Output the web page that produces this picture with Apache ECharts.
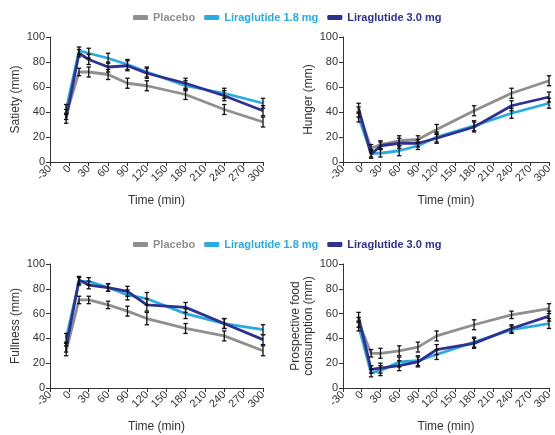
<!DOCTYPE html>
<html>
<head>
<meta charset="utf-8">
<script src="https://cdn.jsdelivr.net/npm/echarts@6/dist/echarts.min.js"></script>
<style>
html,body{margin:0;padding:0;background:#fff;}
#chart{width:555px;height:435px;}
</style>
</head>
<body>
<div id="chart"></div>
<script>
// ---- data ----
const seriesNames = ['Placebo', 'Liraglutide 1.8 mg', 'Liraglutide 3.0 mg'];
const timePoints = [-5, 15, 30, 60, 90, 120, 180, 240, 300];
const xTicks = [-30, 0, 30, 60, 90, 120, 150, 180, 210, 240, 270, 300];
const yTicks = [0, 20, 40, 60, 80, 100];

const satietyPlacebo = [38, 72, 72, 70, 63, 61, 54, 42, 32];
const satietyLira18  = [42, 89, 87, 83, 78, 72, 61, 55, 47];
const satietyLira30  = [35, 87, 82, 76, 77, 71, 63, 53, 41];
const satietyErr     = [4, 3, 4, 4, 4, 4, 4, 4, 4];

const hungerPlacebo = [40, 11, 14, 17, 18, 26, 41, 55, 65];
const hungerLira18  = [36, 7, 7, 9, 13, 20, 29, 39, 47];
const hungerLira30  = [43, 6, 13, 15, 15, 19, 28, 45, 52];
const hungerErr     = [4, 3, 3, 4, 3, 4, 4, 4, 4];

const fullnessPlacebo = [30, 71, 71, 67, 62, 56, 48, 42, 30];
const fullnessLira18  = [40, 86, 86, 81, 75, 72, 60, 52, 47];
const fullnessLira30  = [33, 87, 83, 81, 78, 67, 65, 52, 39];
const fullnessErr     = [4, 3, 3, 3, 4, 5, 4, 4, 4];

const pfcPlacebo = [53, 28, 28, 30, 33, 42, 51, 59, 64];
const pfcLira18  = [50, 12, 14, 21, 22, 27, 37, 47, 52];
const pfcLira30  = [57, 15, 16, 18, 21, 31, 36, 48, 58];
const pfcErr     = [4, 3, 4, 4, 4, 4, 4, 3, 4];

// ---- style ----
const colors = ['#8f8f8f', '#29abe2', '#2e3192'];
const FONT = 'Liberation Sans, Arial, sans-serif';
const axisColor = '#333';

const panels = [
  {name: 'Satiety (mm)', data: [satietyPlacebo, satietyLira18, satietyLira30], err: satietyErr, left: 50, top: 37, height: 125, nameGap: 28},
  {name: 'Hunger (mm)', data: [hungerPlacebo, hungerLira18, hungerLira30], err: hungerErr, left: 343, top: 37, height: 125, nameGap: 28},
  {name: 'Fullness (mm)', data: [fullnessPlacebo, fullnessLira18, fullnessLira30], err: fullnessErr, left: 50, top: 264, height: 124, nameGap: 28},
  {name: 'Prospective food\nconsumption (mm)', data: [pfcPlacebo, pfcLira18, pfcLira30], err: pfcErr, left: 343, top: 264, height: 124, nameGap: 28}
];

const grids = [], xAxes = [], yAxes = [], series = [];

function errRender(params, api) {
  const x = api.value(0), lo = api.value(1), hi = api.value(2);
  const a = api.coord([x, lo]), b = api.coord([x, hi]);
  const w = 2.2;
  const st = {stroke: '#111', lineWidth: 1.3};
  return {type: 'group', children: [
    {type: 'line', shape: {x1: a[0], y1: a[1], x2: b[0], y2: b[1]}, style: st},
    {type: 'line', shape: {x1: a[0] - w, y1: a[1], x2: a[0] + w, y2: a[1]}, style: st},
    {type: 'line', shape: {x1: b[0] - w, y1: b[1], x2: b[0] + w, y2: b[1]}, style: st}
  ]};
}

panels.forEach((p, i) => {
  grids.push({left: p.left, top: p.top, width: 213, height: p.height});
  xAxes.push({
    gridIndex: i, type: 'value', min: xTicks[0], max: xTicks[xTicks.length - 1], interval: 30,
    name: 'Time (min)', nameLocation: 'middle', nameGap: 33,
    nameTextStyle: {fontFamily: FONT, fontSize: 12, color: axisColor},
    axisLine: {onZero: false, lineStyle: {color: axisColor, width: 1}},
    axisTick: {show: true, length: 4, lineStyle: {color: axisColor}},
    axisLabel: {rotate: 45, fontFamily: FONT, fontSize: 11, color: axisColor, margin: 5, showMinLabel: true, showMaxLabel: true},
    splitLine: {show: false}
  });
  yAxes.push({
    gridIndex: i, type: 'value', min: yTicks[0], max: yTicks[yTicks.length - 1], interval: 20,
    name: p.name, nameLocation: 'middle', nameGap: p.nameGap,
    nameTextStyle: {fontFamily: FONT, fontSize: 12, color: axisColor, lineHeight: 13},
    axisLine: {show: true, onZero: false, lineStyle: {color: axisColor, width: 1}},
    axisTick: {show: true, length: 4, lineStyle: {color: axisColor}},
    axisLabel: {fontFamily: FONT, fontSize: 11, color: axisColor, margin: 5},
    splitLine: {show: false}
  });
  p.data.forEach((vals, k) => {
    series.push({
      name: seriesNames[k], type: 'line', xAxisIndex: i, yAxisIndex: i,
      data: timePoints.map((t, j) => [t, vals[j]]),
      showSymbol: false, symbol: 'none',
      lineStyle: {color: colors[k], width: 2.8},
      itemStyle: {color: colors[k]},
      z: 2 + k, animation: false
    });
  });
  p.data.forEach((vals, k) => {
    series.push({
      type: 'custom', xAxisIndex: i, yAxisIndex: i,
      data: timePoints.map((t, j) => [t, vals[j] - p.err[j], vals[j] + p.err[j]]),
      renderItem: errRender, z: 10, animation: false, silent: true
    });
  });
});

const legendBase = {
  data: seriesNames.map((n, k) => ({name: n, itemStyle: {color: colors[k]}, lineStyle: {color: colors[k], width: 5}, textStyle: {color: colors[k]}})),
  icon: 'roundRect', itemWidth: 15, itemHeight: 5, itemGap: 9,
  textStyle: {fontFamily: FONT, fontSize: 11, fontWeight: 'bold'},
  selectedMode: false
};

const option = {
  backgroundColor: '#fff',
  animation: false,
  legend: [
    Object.assign({}, legendBase, {left: 128, top: 7}),
    Object.assign({}, legendBase, {left: 128, top: 234})
  ],
  grid: grids, xAxis: xAxes, yAxis: yAxes, series: series
};

const chart = echarts.init(document.getElementById('chart'), null, {renderer: 'canvas'});
chart.setOption(option);
</script>
</body>
</html>
